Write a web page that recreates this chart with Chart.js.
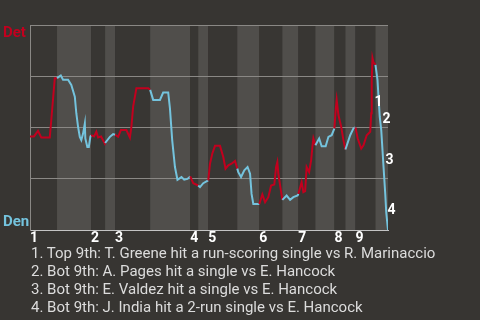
<!DOCTYPE html>
<html>
<head>
<meta charset="utf-8">
<script src="https://cdn.jsdelivr.net/npm/chart.js@4"></script>
<style>
  body { margin: 0; background: #373532; width: 480px; height: 320px; overflow: hidden; font-family: Roboto, sans-serif; }
  #wrap { position: absolute; left: 0; top: 0; width: 480px; height: 247px; }
  #notes { position: absolute; left: 31px; top: 243.5px; color: #dcdcdc; font-size: 15px; line-height: 18px; white-space: nowrap; }
</style>
</head>
<body>
<div id="wrap"><canvas id="wpChart" width="480" height="247"></canvas></div>
<div id="notes"></div>
<script>
const innings = ['1', '2', '3', '4', '5', '6', '7', '8', '9'];
// play number where each half inning starts (top 1, bot 1, top 2, ...)
const halfStarts = [0, 10.8, 24.4, 30, 34, 48, 64, 67.2, 71.2, 82.8, 91.6, 100.8, 107.2, 114, 121.6, 126, 130, 138];
const lastPlay = 143;

const plays = [
  0, 1.6, 3.2, 4.5, 7.9, 8.5, 9.9, 10.8,
  12.3, 13.2, 15.2, 16.5, 17.9, 18.5, 19.2, 19.9, 20.5, 21.2, 21.9, 22.1, 22.9, 23.5, 24.1, 24.4,
  25.6, 26.5, 27.2, 28.4, 29.9, 30,
  31.9, 33.2, 34,
  35.2, 36.3, 38.5, 39.9, 40.5, 41.2, 42.5, 47.2, 48,
  49.2, 51.9, 53.2, 55.2, 55.9, 56.8, 57.9, 58.9, 60.5, 61.6, 62.9, 64,
  65.2, 67.2,
  67.9, 69.2, 71.2,
  71.9, 72.8, 73.9, 75.9, 77.2, 78.1, 79.2, 80.5, 81.9, 82.8,
  83.2, 84.3, 85.6, 86.9, 87.9, 88.5, 89.2, 91.6,
  92.8, 93.9, 95.2, 96.3, 97.6, 98.3, 98.8, 99.2, 99.9, 100.8,
  102.5, 103.9, 105.2, 106.9, 107.2,
  108.5, 109.2, 109.9, 110.5, 111.5, 112.3, 112.8, 113.2, 114,
  115.5, 116.5, 118.1, 119.2, 120.5, 121.6,
  122.1, 122.5, 123.2, 124.3, 125.2, 126,
  127.9, 129.2, 130,
  130.9, 132.3, 133.2, 134.5, 135.9, 136.3, 136.5, 136.8, 137.2, 138,
  138.8, 139.2, 139.7, 140.3, 140.8, 141.3, 141.9, 142.3, 143
];
const detWinProb = [
  0.457, 0.457, 0.484, 0.452, 0.452, 0.537, 0.741, 0.741,
  0.754, 0.733, 0.733, 0.708, 0.651, 0.57, 0.504, 0.455, 0.439, 0.471, 0.52, 0.447, 0.406, 0.406, 0.455, 0.463,
  0.457, 0.48, 0.452, 0.457, 0.422, 0.425,
  0.455, 0.468, 0.465,
  0.455, 0.488, 0.488, 0.452, 0.504, 0.602, 0.692, 0.692, 0.684,
  0.635, 0.635, 0.671, 0.671, 0.594, 0.439, 0.308, 0.246, 0.259, 0.246, 0.25, 0.262,
  0.229, 0.218,
  0.21, 0.229, 0.243,
  0.324, 0.373, 0.411, 0.411, 0.357, 0.3, 0.316, 0.324, 0.337, 0.3,
  0.283, 0.259, 0.292, 0.308, 0.275, 0.177, 0.128, 0.128,
  0.174, 0.136, 0.161, 0.218, 0.223, 0.308, 0.332, 0.275, 0.218, 0.148,
  0.169, 0.148, 0.161, 0.169, 0.177,
  0.234, 0.185, 0.19, 0.308, 0.283, 0.341, 0.406, 0.447, 0.414,
  0.447, 0.409, 0.409, 0.455, 0.463, 0.496,
  0.586, 0.635, 0.561, 0.504, 0.439, 0.393,
  0.463, 0.496, 0.501,
  0.447, 0.398, 0.414, 0.463, 0.48, 0.57, 0.733, 0.839, 0.818, 0.806,
  0.733, 0.651, 0.553, 0.488, 0.39, 0.292, 0.177, 0.087, 0.0
];

const eventLabels = ['1', '2', '3', '4'];
const eventPlays = [137.6, 140.8, 142.0, 142.8];
const eventProbs = [0.605, 0.522, 0.321, 0.081];
const eventTexts = [
  '1. Top 9th: T. Greene hit a run-scoring single vs R. Marinaccio',
  '2. Bot 9th: A. Pages hit a single vs E. Hancock',
  '3. Bot 9th: E. Valdez hit a single vs E. Hancock',
  '4. Bot 9th: J. India hit a 2-run single vs E. Hancock'
];

const detColor = '#c2001e';
const denColor = '#74c3dd';

function halfIndex(x) {
  let idx = 0;
  for (let i = 0; i < halfStarts.length; i++) {
    if (x >= halfStarts[i]) idx = i;
  }
  return idx;
}

const bandsPlugin = {
  id: 'bands',
  beforeDraw(chart) {
    const ctx = chart.ctx;
    const area = chart.chartArea;
    const xs = chart.scales.x;
    ctx.save();
    for (let i = 0; i < halfStarts.length; i++) {
      const x0 = xs.getPixelForValue(halfStarts[i]);
      const x1 = xs.getPixelForValue(i + 1 < halfStarts.length ? halfStarts[i + 1] : lastPlay);
      ctx.fillStyle = i % 2 ? '#504e4b' : '#383633';
      ctx.fillRect(x0, area.top, x1 - x0, area.bottom - area.top);
    }
    ctx.restore();
  }
};

const textPlugin = {
  id: 'texts',
  afterDraw(chart) {
    const ctx = chart.ctx;
    const xs = chart.scales.x;
    const ys = chart.scales.y;
    ctx.save();
    ctx.font = 'bold 15px Roboto';
    ctx.textAlign = 'left';
    ctx.textBaseline = 'alphabetic';
    ctx.fillStyle = detColor;
    ctx.fillText('Det', 3, ys.getPixelForValue(1) + 11.5);
    ctx.fillStyle = denColor;
    ctx.fillText('Den', 3, ys.getPixelForValue(0) - 4.5);
    ctx.font = 'bold 14px Roboto';
    ctx.fillStyle = '#ffffff';
    eventLabels.forEach((lbl, i) => {
      ctx.fillText(lbl, xs.getPixelForValue(eventPlays[i]), ys.getPixelForValue(eventProbs[i]));
    });
    ctx.restore();
  }
};

document.getElementById('notes').innerHTML = eventTexts.map(t => '<div>' + t + '</div>').join('');

new Chart(document.getElementById('wpChart').getContext('2d'), {
  type: 'line',
  data: {
    datasets: [{
      data: plays.map((p, i) => ({ x: p, y: detWinProb[i] })),
      borderWidth: 2,
      pointRadius: 0,
      tension: 0,
      fill: false,
      borderColor: detColor,
      segment: {
        borderColor: c => halfIndex((c.p0.parsed.x + c.p1.parsed.x) / 2) % 2 ? denColor : detColor
      }
    }]
  },
  options: {
    responsive: false,
    animation: false,
    layout: { padding: { left: 30, right: 92, top: 25, bottom: 0 } },
    plugins: { legend: { display: false }, tooltip: { enabled: false } },
    scales: {
      x: {
        type: 'linear',
        min: 0,
        max: lastPlay,
        afterBuildTicks: scale => {
          scale.ticks = halfStarts.filter((_, i) => i % 2 === 0).map(v => ({ value: v }));
        },
        ticks: {
          callback: (v, i) => innings[i],
          autoSkip: false,
          maxRotation: 0,
          align: 'start',
          color: '#ffffff',
          font: { family: 'Roboto', size: 14, weight: 'bold' },
          padding: 0
        },
        grid: { display: false, drawTicks: false },
        border: { color: '#c4c4c4', width: 1 }
      },
      y: {
        min: 0,
        max: 1,
        afterBuildTicks: scale => {
          scale.ticks = [0, 0.25, 0.5, 0.75, 1].map(v => ({ value: v }));
        },
        ticks: { display: false },
        grid: { color: '#8a8885', drawTicks: false },
        border: { color: '#8a8885', width: 1 }
      }
    }
  },
  plugins: [bandsPlugin, textPlugin]
});
</script>
</body>
</html>
